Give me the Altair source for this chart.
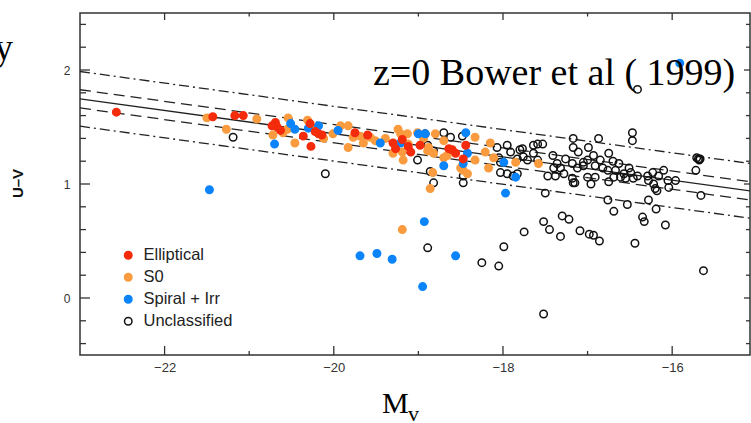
import altair as alt
import pandas as pd

# ---------------- data ----------------
X_DOMAIN = [-23, -15.08]
Y_DOMAIN = [-0.5, 2.5]

classes = ["Elliptical", "S0", "Spiral + Irr", "Unclassified"]
fill_colors = ["#f42c0c", "#f99b3e", "#0b84fb", "transparent"]
stroke_colors = ["#f42c0c", "#f99b3e", "#0b84fb", "#111111"]
marker_sizes = [56, 56, 56, 32]

ell_x = [-22.57, -21.43, -21.17, -21.07, -20.69, -20.67, -20.63, -20.73, -20.36, -20.27,
         -20.28, -20.18, -20.14, -20.22, -19.75, -19.60, -19.19, -19.27, -19.30, -19.09,
         -18.98, -19.12, -18.64, -18.60, -18.56, -18.44, -18.47]
ell_y = [1.63, 1.59, 1.60, 1.60, 1.54, 1.50, 1.47, 1.51, 1.42, 1.33,
         1.53, 1.44, 1.43, 1.46, 1.45, 1.43, 1.39, 1.31, 1.36, 1.28,
         1.34, 1.33, 1.31, 1.30, 1.27, 1.34, 1.22]

s0_x = [-21.50, -21.27, -20.91, -20.54, -20.72, -20.46, -20.60, -20.55, -20.31, -20.22,
        -20.12, -20.01, -19.92, -19.83, -19.83, -19.77, -19.69, -19.65, -19.57, -19.51,
        -19.39, -19.24, -19.21, -19.13, -19.01, -19.12, -19.19, -19.18, -19.30, -18.94,
        -18.89, -18.82, -18.80, -18.88, -18.70, -18.83, -18.86, -18.70, -18.66, -18.33,
        -18.15, -18.21, -18.33, -18.17, -18.11, -18.47, -18.42, -18.50, -17.85, -17.58,
        -19.19]
s0_y = [1.58, 1.48, 1.57, 1.58, 1.43, 1.36, 1.45, 1.48, 1.56, 1.49,
        1.40, 1.44, 1.51, 1.51, 1.32, 1.41, 1.42, 1.36, 1.41, 1.38,
        1.40, 1.48, 1.44, 1.44, 1.45, 1.35, 1.28, 1.21, 1.27, 1.40,
        1.29, 1.27, 1.44, 1.32, 1.38, 1.10, 0.96, 1.23, 1.25, 1.41,
        1.36, 1.28, 1.21, 1.14, 1.23, 1.12, 1.09, 1.14, 1.19, 1.18,
        0.60]

sp_x = [-21.47, -20.70, -20.51, -20.46, -20.30, -20.18, -19.95, -19.45, -19.21, -19.00,
        -18.92, -18.70, -18.44, -18.47, -17.97, -17.85, -17.99, -18.42, -15.91, -19.69,
        -19.49, -19.31, -18.95, -18.93, -18.56]
sp_y = [0.95, 1.35, 1.53, 1.48, 1.49, 1.51, 1.47, 1.36, 1.36, 1.44,
        1.44, 1.16, 1.45, 1.18, 0.92, 1.06, 1.19, 1.27, 2.06, 0.37,
        0.39, 0.34, 0.10, 0.67, 0.37]

un_x = [-21.19, -20.10, -18.92, -18.70, -18.82, -19.01, -18.86, -18.82, -18.89, -18.62,
        -18.48, -18.07, -18.05, -17.91, -17.77, -17.64, -17.53, -17.59, -17.41, -18.47,
        -18.03, -17.95, -17.88, -17.50, -17.17, -17.17, -17.11, -16.99, -16.87, -16.75,
        -16.47, -16.47, -16.41, -16.76, -16.53, -16.28, -16.19, -16.69, -15.72, -15.66,
        -15.69, -15.67, -15.71, -15.68, -16.93, -17.00, -16.85, -16.70, -16.63, -17.05,
        -16.91, -16.82, -16.76, -16.67, -16.51, -16.49, -16.57, -16.41, -16.29, -16.23,
        -16.16, -16.10, -16.28, -16.22, -16.20, -16.05, -15.96, -16.04, -17.00, -16.91,
        -16.96, -16.75, -16.69, -16.61, -16.55, -16.46, -16.35, -17.95, -17.83, -18.03,
        -17.83, -17.76, -17.71, -17.64, -17.59, -17.47, -17.36, -17.32, -17.40, -17.26,
        -17.18, -17.28, -17.18, -17.17, -17.15, -17.12, -17.05, -17.38, -18.47, -16.33,
        -16.08, -17.52, -17.30, -17.22, -17.45, -17.75, -17.32, -17.09, -16.98, -16.93,
        -16.86, -16.44, -18.89, -17.99, -18.25, -18.05, -15.63, -17.52, -16.18, -17.80]
un_y = [1.41, 1.09, 1.44, 1.45, 1.29, 1.21, 1.11, 1.01, 1.34, 1.41,
        1.42, 1.32, 1.23, 1.28, 1.31, 1.27, 1.35, 1.35, 1.25, 1.01,
        1.10, 1.09, 1.07, 0.92, 1.40, 1.32, 1.28, 1.32, 1.40, 1.27,
        1.45, 1.38, 1.83, 0.86, 0.82, 0.86, 0.78, 0.76, 1.12, 0.90,
        1.22, 1.22, 1.23, 1.21, 1.25, 1.21, 1.21, 1.20, 1.18, 1.16,
        1.16, 1.14, 1.12, 1.12, 1.14, 1.10, 1.09, 1.07, 1.07, 1.10,
        1.07, 1.12, 1.03, 1.00, 0.96, 1.03, 1.03, 0.97, 1.06, 1.06,
        1.00, 1.02, 1.06, 1.06, 1.05, 1.05, 0.71, 1.34, 1.22, 1.19,
        1.09, 1.24, 1.21, 1.34, 1.21, 1.07, 1.18, 1.14, 1.14, 1.22,
        1.18, 1.09, 1.05, 1.01, 1.01, 1.14, 1.19, 1.07, 1.07, 0.67,
        0.64, 0.67, 0.72, 0.69, 0.60, 0.58, 0.54, 0.59, 0.56, 0.55,
        0.50, 0.48, 0.44, 0.45, 0.31, 0.28, 0.24, -0.14, 0.94, 1.30]

# colour-magnitude relation lines (end points)
line_x = [-23, -15.08]
solid_y = [1.747, 0.94]
dash_hi_y = [1.827, 1.02]
dash_lo_y = [1.667, 0.86]
dd_hi_y = [1.987, 1.18]
dd_lo_y = [1.507, 0.70]

x_major = [-22, -20, -18, -16]
x_minor = [-21, -19, -17]
y_major = [0, 1, 2]
y_minor = [-0.4, -0.2, 0.2, 0.4, 0.6, 0.8, 1.2, 1.4, 1.6, 1.8, 2.2, 2.4]

annotation = "z=0 Bower et al ( 1999)"
x_title_main = "M"
x_title_sub = "v"
y_title = "U\u2013V"
stray_text = "y"

# ---------------- chart ----------------
W, H = 670, 342
AX = "#333333"

rows = []
for cls, xs, ys in [("Unclassified", un_x, un_y), ("S0", s0_x, s0_y),
                    ("Spiral + Irr", sp_x, sp_y), ("Elliptical", ell_x, ell_y)]:
    for a, b in zip(xs, ys):
        rows.append({"Mv": a, "UV": b, "cls": cls})
pts = pd.DataFrame(rows)

xsc = alt.Scale(domain=X_DOMAIN, nice=False, zero=False)
ysc = alt.Scale(domain=Y_DOMAIN, nice=False, zero=False)

x_axis = alt.Axis(values=x_major, ticks=False, tickSize=0, domain=False, grid=False,
                  labelFontSize=13, labelFont="Liberation Sans", labelColor=AX,
                  labelPadding=6, title=None)
y_axis = alt.Axis(values=y_major, ticks=False, tickSize=0, domain=False, grid=False,
                  labelFontSize=12, labelFont="Liberation Sans", labelColor=AX,
                  labelPadding=10, title=y_title, titleFontSize=15,
                  titleFont="Liberation Sans", titleFontWeight="bold",
                  titleColor="#111111", titleX=-63, titleY=170,
                  titleAngle=270, titleAlign="center", titleBaseline="middle")

leg = alt.Legend(title=None, orient="none", legendX=40, legendY=234, padding=0,
                 labelFontSize=16.5, labelFont="Liberation Sans", labelColor="#222222",
                 rowPadding=5, labelOffset=7, symbolStrokeWidth=1.5, symbolType="circle")

points = alt.Chart(pts).mark_point(shape="circle", opacity=1, strokeWidth=1.5).encode(
    x=alt.X("Mv:Q", scale=xsc, axis=x_axis),
    y=alt.Y("UV:Q", scale=ysc, axis=y_axis),
    fill=alt.Fill("cls:N", scale=alt.Scale(domain=classes, range=fill_colors), legend=leg),
    stroke=alt.Stroke("cls:N", scale=alt.Scale(domain=classes, range=stroke_colors), legend=leg),
    size=alt.Size("cls:N", scale=alt.Scale(domain=classes, range=marker_sizes), legend=leg),
)


def line_layer(ys, dash):
    df = pd.DataFrame({"Mv": line_x, "UV": ys})
    kw = {"color": "#222222", "strokeWidth": 1.3, "clip": True}
    if dash:
        kw["strokeDash"] = dash
    return alt.Chart(df).mark_line(**kw).encode(
        x=alt.X("Mv:Q", scale=xsc, axis=x_axis), y=alt.Y("UV:Q", scale=ysc, axis=y_axis))


lines = [
    line_layer(solid_y, None),
    line_layer(dash_hi_y, [11, 6]),
    line_layer(dash_lo_y, [11, 6]),
    line_layer(dd_hi_y, [10, 4, 2, 4]),
    line_layer(dd_lo_y, [10, 4, 2, 4]),
]


def xticks(vals, y0, y1):
    df = pd.DataFrame({"Mv": vals})
    return alt.Chart(df).mark_rule(color=AX, strokeWidth=1.3).encode(
        x=alt.X("Mv:Q", scale=xsc, axis=x_axis), y=alt.value(y0), y2=alt.value(y1))


def yticks(vals, x0, x1):
    df = pd.DataFrame({"UV": vals})
    return alt.Chart(df).mark_rule(color=AX, strokeWidth=1.3).encode(
        y=alt.Y("UV:Q", scale=ysc, axis=y_axis), x=alt.value(x0), x2=alt.value(x1))


ticks = [
    xticks(x_major, H, H - 9), xticks(x_minor, H, H - 4),
    xticks(x_major, 0, 7), xticks(x_minor, 0, 3.5),
    yticks(y_major, 0, 10), yticks(y_minor, 0, 6),
    yticks(y_major, W, W - 6), yticks(y_minor, W, W - 4),
]


def text_layer(t, x, y, size, align="left", font="Liberation Serif"):
    df = pd.DataFrame({"t": [t]})
    return alt.Chart(df).mark_text(font=font, fontSize=size, align=align,
                                   baseline="alphabetic", color="#000000").encode(
        text="t:N", x=alt.value(x), y=alt.value(y))


texts = [
    text_layer(annotation, 293, 72, 38),
    text_layer(x_title_main, 302, 400, 30),
    text_layer(x_title_sub, 328, 408, 22),
    text_layer(stray_text, -67, 47, 37, align="right"),
]

chart = alt.layer(*lines, *ticks, points, *texts).properties(
    width=W, height=H,
    padding={"left": 80, "top": 13, "right": 1, "bottom": 68},
    autosize=alt.AutoSizeParams(type="none"),
).configure_view(stroke=AX, strokeWidth=1.5).configure_axis(grid=False)

chart.save("out.html", embed_options={"renderer": "svg", "actions": False})
